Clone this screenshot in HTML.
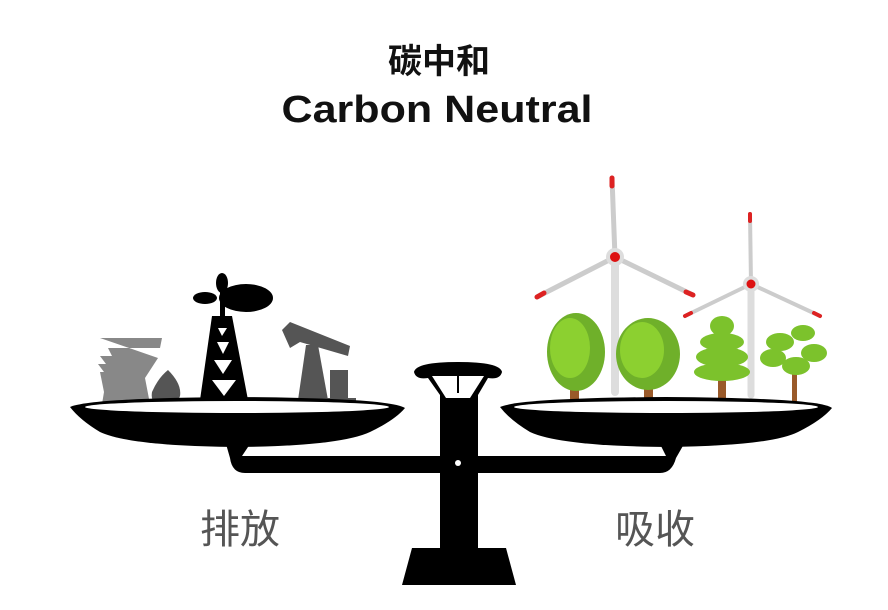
<!DOCTYPE html>
<html><head><meta charset="utf-8"><style>html,body{margin:0;padding:0;background:#fff}svg{display:block}</style></head>
<body>
<svg width="888" height="610" viewBox="0 0 888 610" xmlns="http://www.w3.org/2000/svg">
<rect width="888" height="610" fill="#fff"/>
<text x="439" y="73" font-family="Liberation Sans, Noto Sans CJK SC, sans-serif" font-size="34" font-weight="bold" text-anchor="middle" fill="#111">碳中和</text>
<text x="437" y="122" font-family="Liberation Sans, sans-serif" font-size="38" font-weight="bold" text-anchor="middle" textLength="311" lengthAdjust="spacingAndGlyphs" fill="#111">Carbon Neutral</text>

<!-- left items -->
<g fill="#888">
<path d="M100 338 H162 L160 348 H108 L112 356 H100 L106 364 H98 L104 372 H100 L104 392 L102 404 H150 L145 378 L158 358 Z"/>
</g>
<path d="M152 392 Q158 378 168 370 Q182 384 180 396 Q176 408 162 406 Q150 404 152 392Z" fill="#555"/>
<g fill="#000">
<path d="M212 316 L232 316 L248 400 L254 408 H194 L200 400 Z"/>
<ellipse cx="246" cy="298" rx="27" ry="14"/>
<ellipse cx="205" cy="298" rx="12" ry="6"/>
<ellipse cx="222" cy="283" rx="6" ry="10"/>
<rect x="220" y="290" width="5" height="26"/>
</g>
<g fill="#fff"><polygon points="218,328 227,328 222,336"/><polygon points="217,342 229,342 223,354"/><polygon points="214,360 232,360 223,374"/><polygon points="212,380 236,380 224,396"/></g>
<g fill="#555">
<path d="M282 330 L290 322 L350 346 L348 356 L300 342 L290 348 Z"/>
<path d="M306 345 L318 345 L328 400 H298 Z"/>
<rect x="330" y="370" width="18" height="32"/>
<rect x="276" y="398" width="80" height="10"/>
</g>

<!-- wind turbines -->
<g stroke-linecap="round">
<line x1="615" y1="257" x2="615" y2="392" stroke="#ddd" stroke-width="8"/>
<line x1="751" y1="284" x2="751" y2="395" stroke="#ddd" stroke-width="7"/>
<line x1="615" y1="257" x2="612" y2="178" stroke="#ccc" stroke-width="5"/>
<line x1="615" y1="257" x2="537" y2="297" stroke="#ccc" stroke-width="5"/>
<line x1="615" y1="257" x2="693" y2="295" stroke="#ccc" stroke-width="5"/>
<line x1="751" y1="284" x2="750" y2="214" stroke="#ccc" stroke-width="4"/>
<line x1="751" y1="284" x2="685" y2="316" stroke="#ccc" stroke-width="4"/>
<line x1="751" y1="284" x2="820" y2="316" stroke="#ccc" stroke-width="4"/>
<line x1="612" y1="178" x2="612" y2="186" stroke="#d22" stroke-width="5"/>
<line x1="537" y1="297" x2="544" y2="293" stroke="#d22" stroke-width="5"/>
<line x1="693" y1="295" x2="686" y2="292" stroke="#d22" stroke-width="5"/>
<line x1="750" y1="214" x2="750" y2="221" stroke="#d22" stroke-width="4"/>
<line x1="685" y1="316" x2="691" y2="313" stroke="#d22" stroke-width="4"/>
<line x1="820" y1="316" x2="814" y2="313" stroke="#d22" stroke-width="4"/>
</g>
<circle cx="615" cy="257" r="9" fill="#ddd"/><circle cx="615" cy="257" r="5" fill="#d11"/>
<circle cx="751" cy="284" r="8" fill="#ddd"/><circle cx="751" cy="284" r="4.5" fill="#d11"/>

<!-- trees -->
<g fill="#9a5a2a">
<rect x="570" y="382" width="9" height="28"/><rect x="644" y="384" width="9" height="26"/>
<rect x="718" y="372" width="8" height="36"/><rect x="792" y="360" width="5" height="46"/>
</g>
<ellipse cx="576" cy="352" rx="29" ry="39" fill="#6fb02a"/>
<ellipse cx="570" cy="348" rx="20" ry="30" fill="#8cd030"/>
<ellipse cx="648" cy="354" rx="32" ry="36" fill="#6fb02a"/>
<ellipse cx="642" cy="350" rx="22" ry="28" fill="#8cd030"/>
<g fill="#7cc22c">
<ellipse cx="722" cy="326" rx="12" ry="10"/><ellipse cx="722" cy="342" rx="22" ry="9"/>
<ellipse cx="722" cy="357" rx="26" ry="10"/><ellipse cx="722" cy="372" rx="28" ry="9"/>
</g>
<g fill="#7cc22c">
<ellipse cx="803" cy="333" rx="12" ry="8"/><ellipse cx="780" cy="342" rx="14" ry="9"/>
<ellipse cx="814" cy="353" rx="13" ry="9"/><ellipse cx="773" cy="358" rx="13" ry="9"/>
<ellipse cx="796" cy="366" rx="14" ry="9"/>
</g>

<!-- scale -->
<g fill="#000">
<path d="M70 407 Q90 398 237 397 Q390 398 405 408 Q395 420 370 432 Q340 446 237 447 Q130 446 100 432 Q80 420 70 407Z"/>
<ellipse cx="237" cy="407" rx="152" ry="6" fill="#fff"/>
<path d="M500 407 Q520 398 666 397 Q820 398 832 408 Q822 420 798 432 Q770 446 666 447 Q560 446 530 432 Q510 420 500 407Z"/>
<ellipse cx="666" cy="407" rx="152" ry="6" fill="#fff"/>
<path d="M226 444 H250 L242 456 H666 L660 444 H684 L676 458 Q672 473 660 473 H245 Q232 473 230 458Z"/>
<rect x="440" y="385" width="38" height="170"/>
<path d="M414 372 Q416 362 458 362 Q500 362 502 372 Q500 380 488 378 L478 395 H440 L428 378 Q416 380 414 372Z"/>
<path d="M432 376 H484 L470 398 H446Z" fill="#fff"/>
<rect x="457" y="375" width="2" height="18"/>
<path d="M412 548 H506 L516 585 H402Z"/>
</g>
<circle cx="458" cy="463" r="3" fill="#fff"/>

<text x="240" y="543" font-family="Liberation Sans, Noto Sans CJK SC, sans-serif" font-size="40" text-anchor="middle" fill="#555">排放</text>
<text x="655" y="543" font-family="Liberation Sans, Noto Sans CJK SC, sans-serif" font-size="40" text-anchor="middle" fill="#555">吸收</text>
</svg>
</body></html>
